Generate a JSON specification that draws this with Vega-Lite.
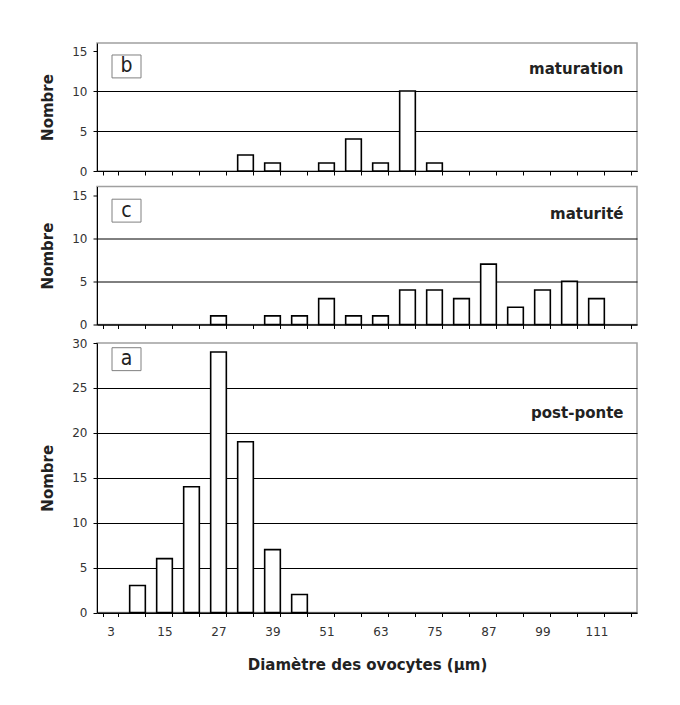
{
  "$schema": "https://vega.github.io/schema/vega-lite/v6.json",
  "padding": {"left": 39, "top": 42, "right": 5, "bottom": 5},
  "background": "white",
  "datasets": {
    "hist": [
      {"panel": "b", "diam": 33, "n": 2},
      {"panel": "b", "diam": 39, "n": 1},
      {"panel": "b", "diam": 51, "n": 1},
      {"panel": "b", "diam": 57, "n": 4},
      {"panel": "b", "diam": 63, "n": 1},
      {"panel": "b", "diam": 69, "n": 10},
      {"panel": "b", "diam": 75, "n": 1},
      {"panel": "c", "diam": 27, "n": 1},
      {"panel": "c", "diam": 39, "n": 1},
      {"panel": "c", "diam": 45, "n": 1},
      {"panel": "c", "diam": 51, "n": 3},
      {"panel": "c", "diam": 57, "n": 1},
      {"panel": "c", "diam": 63, "n": 1},
      {"panel": "c", "diam": 69, "n": 4},
      {"panel": "c", "diam": 75, "n": 4},
      {"panel": "c", "diam": 81, "n": 3},
      {"panel": "c", "diam": 87, "n": 7},
      {"panel": "c", "diam": 93, "n": 2},
      {"panel": "c", "diam": 99, "n": 4},
      {"panel": "c", "diam": 105, "n": 5},
      {"panel": "c", "diam": 111, "n": 3},
      {"panel": "a", "diam": 9, "n": 3},
      {"panel": "a", "diam": 15, "n": 6},
      {"panel": "a", "diam": 21, "n": 14},
      {"panel": "a", "diam": 27, "n": 29},
      {"panel": "a", "diam": 33, "n": 19},
      {"panel": "a", "diam": 39, "n": 7},
      {"panel": "a", "diam": 45, "n": 2}
    ]
  },
  "config": {
    "view": {"stroke": "#a0a0a0", "strokeWidth": 1.5},
    "axis": {
      "domainColor": "black",
      "domainWidth": 1,
      "tickColor": "black",
      "tickWidth": 1,
      "tickSize": 4,
      "labelFont": "DejaVu Sans",
      "labelFontSize": 12,
      "labelColor": "#333",
      "titleFont": "DejaVu Sans",
      "titleFontWeight": "bold",
      "titleFontSize": 15,
      "titleColor": "#222"
    },
    "axisY": {"labelPadding": 6, "titlePadding": 16},
    "axisX": {"grid": false, "tickBand": "extent", "labelAngle": 0, "labelPadding": 10, "titlePadding": 20}
  },
  "spacing": 4,
  "vconcat": [
    {
      "spacing": 7.5,
      "vconcat": [
        {
          "width": 540,
          "height": 128,
          "layer": [
            {
              "data": {"name": "hist"},
              "transform": [{"filter": "datum.panel === 'b'"}],
              "mark": {"type": "bar", "fill": "white", "stroke": "black", "strokeWidth": 1.6},
              "encoding": {
                "x": {"field": "diam", "type": "ordinal",
                  "scale": {"domain": [3,9,15,21,27,33,39,45,51,57,63,69,75,81,87,93,99,105,111,117], "paddingInner": 0.42, "paddingOuter": 0.21},
                  "axis": {"labels": false, "title": null}},
                "y": {"field": "n", "type": "quantitative", "scale": {"domain": [0, 15]},
                  "axis": {"values": [0,5,10,15], "title": "Nombre", "grid": true,
                    "gridColor": {"condition": {"test": "datum.value >= 15", "value": "transparent"}, "value": "black"}}}
              }
            },
            {
              "data": {"values": [{"letter": "b"}]},
              "mark": {"type": "point", "shape": "M-1,-0.79L1,-0.79L1,0.79L-1,0.79Z", "size": 841, "filled": false, "stroke": "#808080", "strokeWidth": 1, "opacity": 1, "xOffset": -11},
              "encoding": {"x": {"datum": 9, "type": "ordinal"}, "y": {"datum": 13.07, "type": "quantitative"}}
            },
            {
              "data": {"values": [{"letter": "b"}]},
              "mark": {"type": "text", "font": "DejaVu Sans Condensed, DejaVu Sans", "fontSize": 21, "color": "#222", "align": "center", "baseline": "middle", "dx": -11},
              "encoding": {"x": {"datum": 9, "type": "ordinal"}, "y": {"datum": 13.07, "type": "quantitative"}, "text": {"field": "letter"}}
            },
            {
              "data": {"values": [{"stage": "maturation"}]},
              "mark": {"type": "text", "font": "DejaVu Sans", "fontWeight": "bold", "fontSize": 15, "color": "#222", "align": "right", "baseline": "middle"},
              "encoding": {"x": {"datum": 117, "type": "ordinal"}, "y": {"datum": 12.77, "type": "quantitative"}, "text": {"field": "stage"}}
            }
          ]
        },
        {
          "width": 540,
          "height": 138,
          "layer": [
            {
              "data": {"name": "hist"},
              "transform": [{"filter": "datum.panel === 'c'"}],
              "mark": {"type": "bar", "fill": "white", "stroke": "black", "strokeWidth": 1.6},
              "encoding": {
                "x": {"field": "diam", "type": "ordinal",
                  "scale": {"domain": [3,9,15,21,27,33,39,45,51,57,63,69,75,81,87,93,99,105,111,117], "paddingInner": 0.42, "paddingOuter": 0.21},
                  "axis": {"labels": false, "title": null}},
                "y": {"field": "n", "type": "quantitative", "scale": {"domain": [0, 15]},
                  "axis": {"values": [0,5,10,15], "title": "Nombre", "grid": true,
                    "gridColor": {"condition": {"test": "datum.value >= 15", "value": "transparent"}, "value": "black"}}}
              }
            },
            {
              "data": {"values": [{"letter": "c"}]},
              "mark": {"type": "point", "shape": "M-1,-0.79L1,-0.79L1,0.79L-1,0.79Z", "size": 841, "filled": false, "stroke": "#808080", "strokeWidth": 1, "opacity": 1, "xOffset": -11},
              "encoding": {"x": {"datum": 9, "type": "ordinal"}, "y": {"datum": 13.2, "type": "quantitative"}}
            },
            {
              "data": {"values": [{"letter": "c"}]},
              "mark": {"type": "text", "font": "DejaVu Sans Condensed, DejaVu Sans", "fontSize": 21, "color": "#222", "align": "center", "baseline": "middle", "dx": -11},
              "encoding": {"x": {"datum": 9, "type": "ordinal"}, "y": {"datum": 13.2, "type": "quantitative"}, "text": {"field": "letter"}}
            },
            {
              "data": {"values": [{"stage": "maturité"}]},
              "mark": {"type": "text", "font": "DejaVu Sans", "fontWeight": "bold", "fontSize": 15, "color": "#222", "align": "right", "baseline": "middle"},
              "encoding": {"x": {"datum": 117, "type": "ordinal"}, "y": {"datum": 12.77, "type": "quantitative"}, "text": {"field": "stage"}}
            }
          ]
        }
      ]
    },
    {
      "width": 540,
      "height": 269.5,
      "layer": [
        {
          "data": {"name": "hist"},
          "transform": [{"filter": "datum.panel === 'a'"}],
          "mark": {"type": "bar", "fill": "white", "stroke": "black", "strokeWidth": 1.6},
          "encoding": {
            "x": {"field": "diam", "type": "ordinal",
              "scale": {"domain": [3,9,15,21,27,33,39,45,51,57,63,69,75,81,87,93,99,105,111,117], "paddingInner": 0.42, "paddingOuter": 0.21},
              "axis": {"title": "Diamètre des ovocytes (µm)", "labelExpr": "(datum.value - 3) % 12 === 0 ? datum.label : ''"}},
            "y": {"field": "n", "type": "quantitative", "scale": {"domain": [0, 30]},
              "axis": {"values": [0,5,10,15,20,25,30], "title": "Nombre", "grid": true,
                "gridColor": {"condition": {"test": "datum.value >= 30", "value": "transparent"}, "value": "black"}}}
          }
        },
        {
          "data": {"values": [{"letter": "a"}]},
          "mark": {"type": "point", "shape": "M-1,-0.79L1,-0.79L1,0.79L-1,0.79Z", "size": 841, "filled": false, "stroke": "#808080", "strokeWidth": 1, "opacity": 1, "xOffset": -11},
          "encoding": {"x": {"datum": 9, "type": "ordinal"}, "y": {"datum": 28.2, "type": "quantitative"}}
        },
        {
          "data": {"values": [{"letter": "a"}]},
          "mark": {"type": "text", "font": "DejaVu Sans Condensed, DejaVu Sans", "fontSize": 21, "color": "#222", "align": "center", "baseline": "middle", "dx": -11},
          "encoding": {"x": {"datum": 9, "type": "ordinal"}, "y": {"datum": 28.2, "type": "quantitative"}, "text": {"field": "letter"}}
        },
        {
          "data": {"values": [{"stage": "post-ponte"}]},
          "mark": {"type": "text", "font": "DejaVu Sans", "fontWeight": "bold", "fontSize": 15, "color": "#222", "align": "right", "baseline": "middle"},
          "encoding": {"x": {"datum": 117, "type": "ordinal"}, "y": {"datum": 22.26, "type": "quantitative"}, "text": {"field": "stage"}}
        }
      ]
    }
  ]
}
